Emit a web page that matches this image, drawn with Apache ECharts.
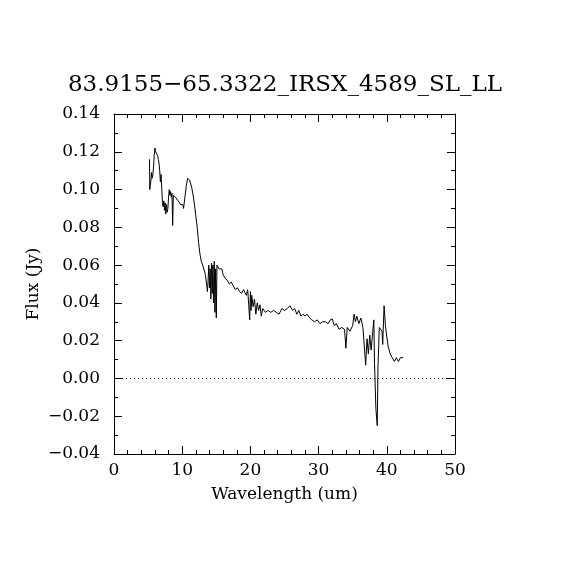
<!DOCTYPE html>
<html><head><meta charset="utf-8">
<script src="https://cdn.jsdelivr.net/npm/echarts@6/dist/echarts.min.js"></script>
<style>html,body{margin:0;padding:0;background:#fff}#c{width:570px;height:570px}</style>
</head><body><div id="c"></div>
<script>
var titleText = "83.9155\u221265.3322_IRSX_4589_SL_LL";
var xName = "Wavelength (um)";
var yName = "Flux (Jy)";
var xTicks = [0, 10, 20, 30, 40, 50];
var yTicks = [-0.04, -0.02, 0.00, 0.02, 0.04, 0.06, 0.08, 0.10, 0.12, 0.14];
var wave = [5.2,5.25,5.3,5.4,5.5,5.6,5.7,5.8,5.9,6.0,6.1,6.2,6.3,6.4,6.5,6.6,6.7,6.8,6.9,7.0,7.1,7.2,7.3,7.4,7.5,7.6,7.7,7.8,7.9,8.0,8.1,8.2,8.3,8.4,8.5,8.6,8.7,8.8,8.9,9.0,9.2,9.4,9.6,9.8,10.0,10.1,10.2,10.4,10.6,10.8,11.0,11.1,11.2,11.4,11.6,11.8,12.0,12.2,12.4,12.6,12.8,13.0,13.2,13.4,13.6,13.7,13.8,13.9,14.0,14.1,14.2,14.3,14.4,14.5,14.6,14.7,14.8,14.9,15.0,15.1,15.2,15.4,15.6,15.8,16.0,16.3,16.6,16.9,17.2,17.5,17.8,18.1,18.4,18.7,19.0,19.2,19.4,19.6,19.8,19.9,20.0,20.1,20.2,20.4,20.6,20.8,21.0,21.2,21.4,21.6,21.8,22.2,22.6,23.0,23.4,23.8,24.2,24.6,25.0,25.4,25.8,26.2,26.5,26.8,27.1,27.4,27.7,28.0,28.3,28.7,29.0,29.4,29.8,30.2,30.6,31.0,31.4,31.7,32.0,32.3,32.6,33.0,33.4,33.8,34.0,34.2,34.6,35.0,35.2,35.4,35.6,35.9,36.2,36.5,36.7,36.9,37.1,37.3,37.5,37.7,37.9,38.1,38.2,38.4,38.6,38.7,38.9,39.1,39.3,39.4,39.6,39.8,40.0,40.2,40.5,40.8,41.1,41.4,41.7,42.0,42.4];
var flux = [0.116,0.100,0.102,0.104,0.109,0.106,0.108,0.112,0.118,0.122,0.120,0.121,0.119,0.118,0.116,0.114,0.110,0.104,0.108,0.101,0.093,0.091,0.094,0.089,0.093,0.087,0.092,0.088,0.090,0.096,0.100,0.097,0.099,0.096,0.098,0.081,0.097,0.098,0.097,0.096,0.095,0.094,0.093,0.092,0.091,0.092,0.090,0.096,0.102,0.106,0.107,0.105,0.106,0.101,0.097,0.092,0.086,0.080,0.072,0.066,0.062,0.060,0.059,0.055,0.049,0.046,0.052,0.060,0.048,0.058,0.042,0.061,0.045,0.060,0.040,0.062,0.035,0.058,0.032,0.060,0.061,0.058,0.057,0.058,0.055,0.053,0.052,0.050,0.051,0.049,0.047,0.048,0.046,0.045,0.047,0.046,0.044,0.047,0.048,0.031,0.046,0.036,0.044,0.038,0.042,0.034,0.040,0.036,0.039,0.033,0.037,0.035,0.036,0.035,0.036,0.035,0.034,0.037,0.036,0.037,0.0385,0.036,0.037,0.034,0.036,0.033,0.034,0.033,0.034,0.032,0.031,0.030,0.031,0.029,0.030,0.030,0.029,0.031,0.0315,0.028,0.029,0.026,0.027,0.026,0.016,0.027,0.025,0.028,0.034,0.030,0.033,0.029,0.032,0.027,0.028,0.007,0.021,0.013,0.023,0.015,0.023,0.031,0.008,-0.016,-0.025,0.005,0.027,0.028,0.025,0.018,0.0385,0.028,0.022,0.017,0.013,0.011,0.009,0.011,0.009,0.011,0.011];

var pts = wave.map(function(w,i){return [w, flux[i]];});
var font = "DejaVu Serif";
var chart = echarts.init(document.getElementById('c'));
function xAx(pos, show){
  return {type:'value', position:pos, min:0, max:50, interval:10,
    axisLine:{show:true, onZero:false, lineStyle:{color:'#000', width:1}},
    axisTick:{show:true, inside:true, length:8, lineStyle:{color:'#000'}},
    minorTick:{show:true, splitNumber:5, length:4, lineStyle:{color:'#000'}},
    splitLine:{show:false},
    axisLabel:{show:show, color:'#000', fontFamily:font, fontSize:17, margin:8},
    name: show ? xName : '', nameLocation:'middle', nameGap:32, nameMoveOverlap:false,
    nameTextStyle:{color:'#000', fontFamily:font, fontSize:17}};
}
function yAx(pos, show){
  return {type:'value', position:pos, min:-0.04, max:0.14, interval:0.02,
    axisLine:{show:true, onZero:false, lineStyle:{color:'#000', width:1}},
    axisTick:{show:true, inside:true, length:8, lineStyle:{color:'#000'}},
    minorTick:{show:true, splitNumber:2, length:4, lineStyle:{color:'#000'}},
    splitLine:{show:false},
    axisLabel:{show:show, color:'#000', fontFamily:font, fontSize:17, margin:14,
      formatter:function(v){var s=v.toFixed(2); return s.replace('-','\u2212');}},
    name: show ? yName : '', nameLocation:'middle', nameGap:72, nameRotate:90, nameMoveOverlap:false,
    nameTextStyle:{color:'#000', fontFamily:font, fontSize:17}};
}
chart.setOption({
  backgroundColor:'#fff',
  animation:false,
  title:{text:titleText, left:'center', top:69, textStyle:{color:'#000', fontFamily:font, fontSize:23, fontWeight:'normal'}},
  grid:{left:114, top:114, right:115, bottom:116, containLabel:false},
  xAxis:[xAx('bottom', true), xAx('top', false)],
  yAxis:[yAx('left', true), yAx('right', false)],
  series:[{type:'line', data:pts, xAxisIndex:0, yAxisIndex:0, symbol:'none',
    lineStyle:{color:'#000', width:1}, 
    markLine:{silent:true, symbol:'none', label:{show:false},
      lineStyle:{color:'#000', width:1, type:[1,3]}, data:[{yAxis:0}]}}]
});
</script></body></html>
